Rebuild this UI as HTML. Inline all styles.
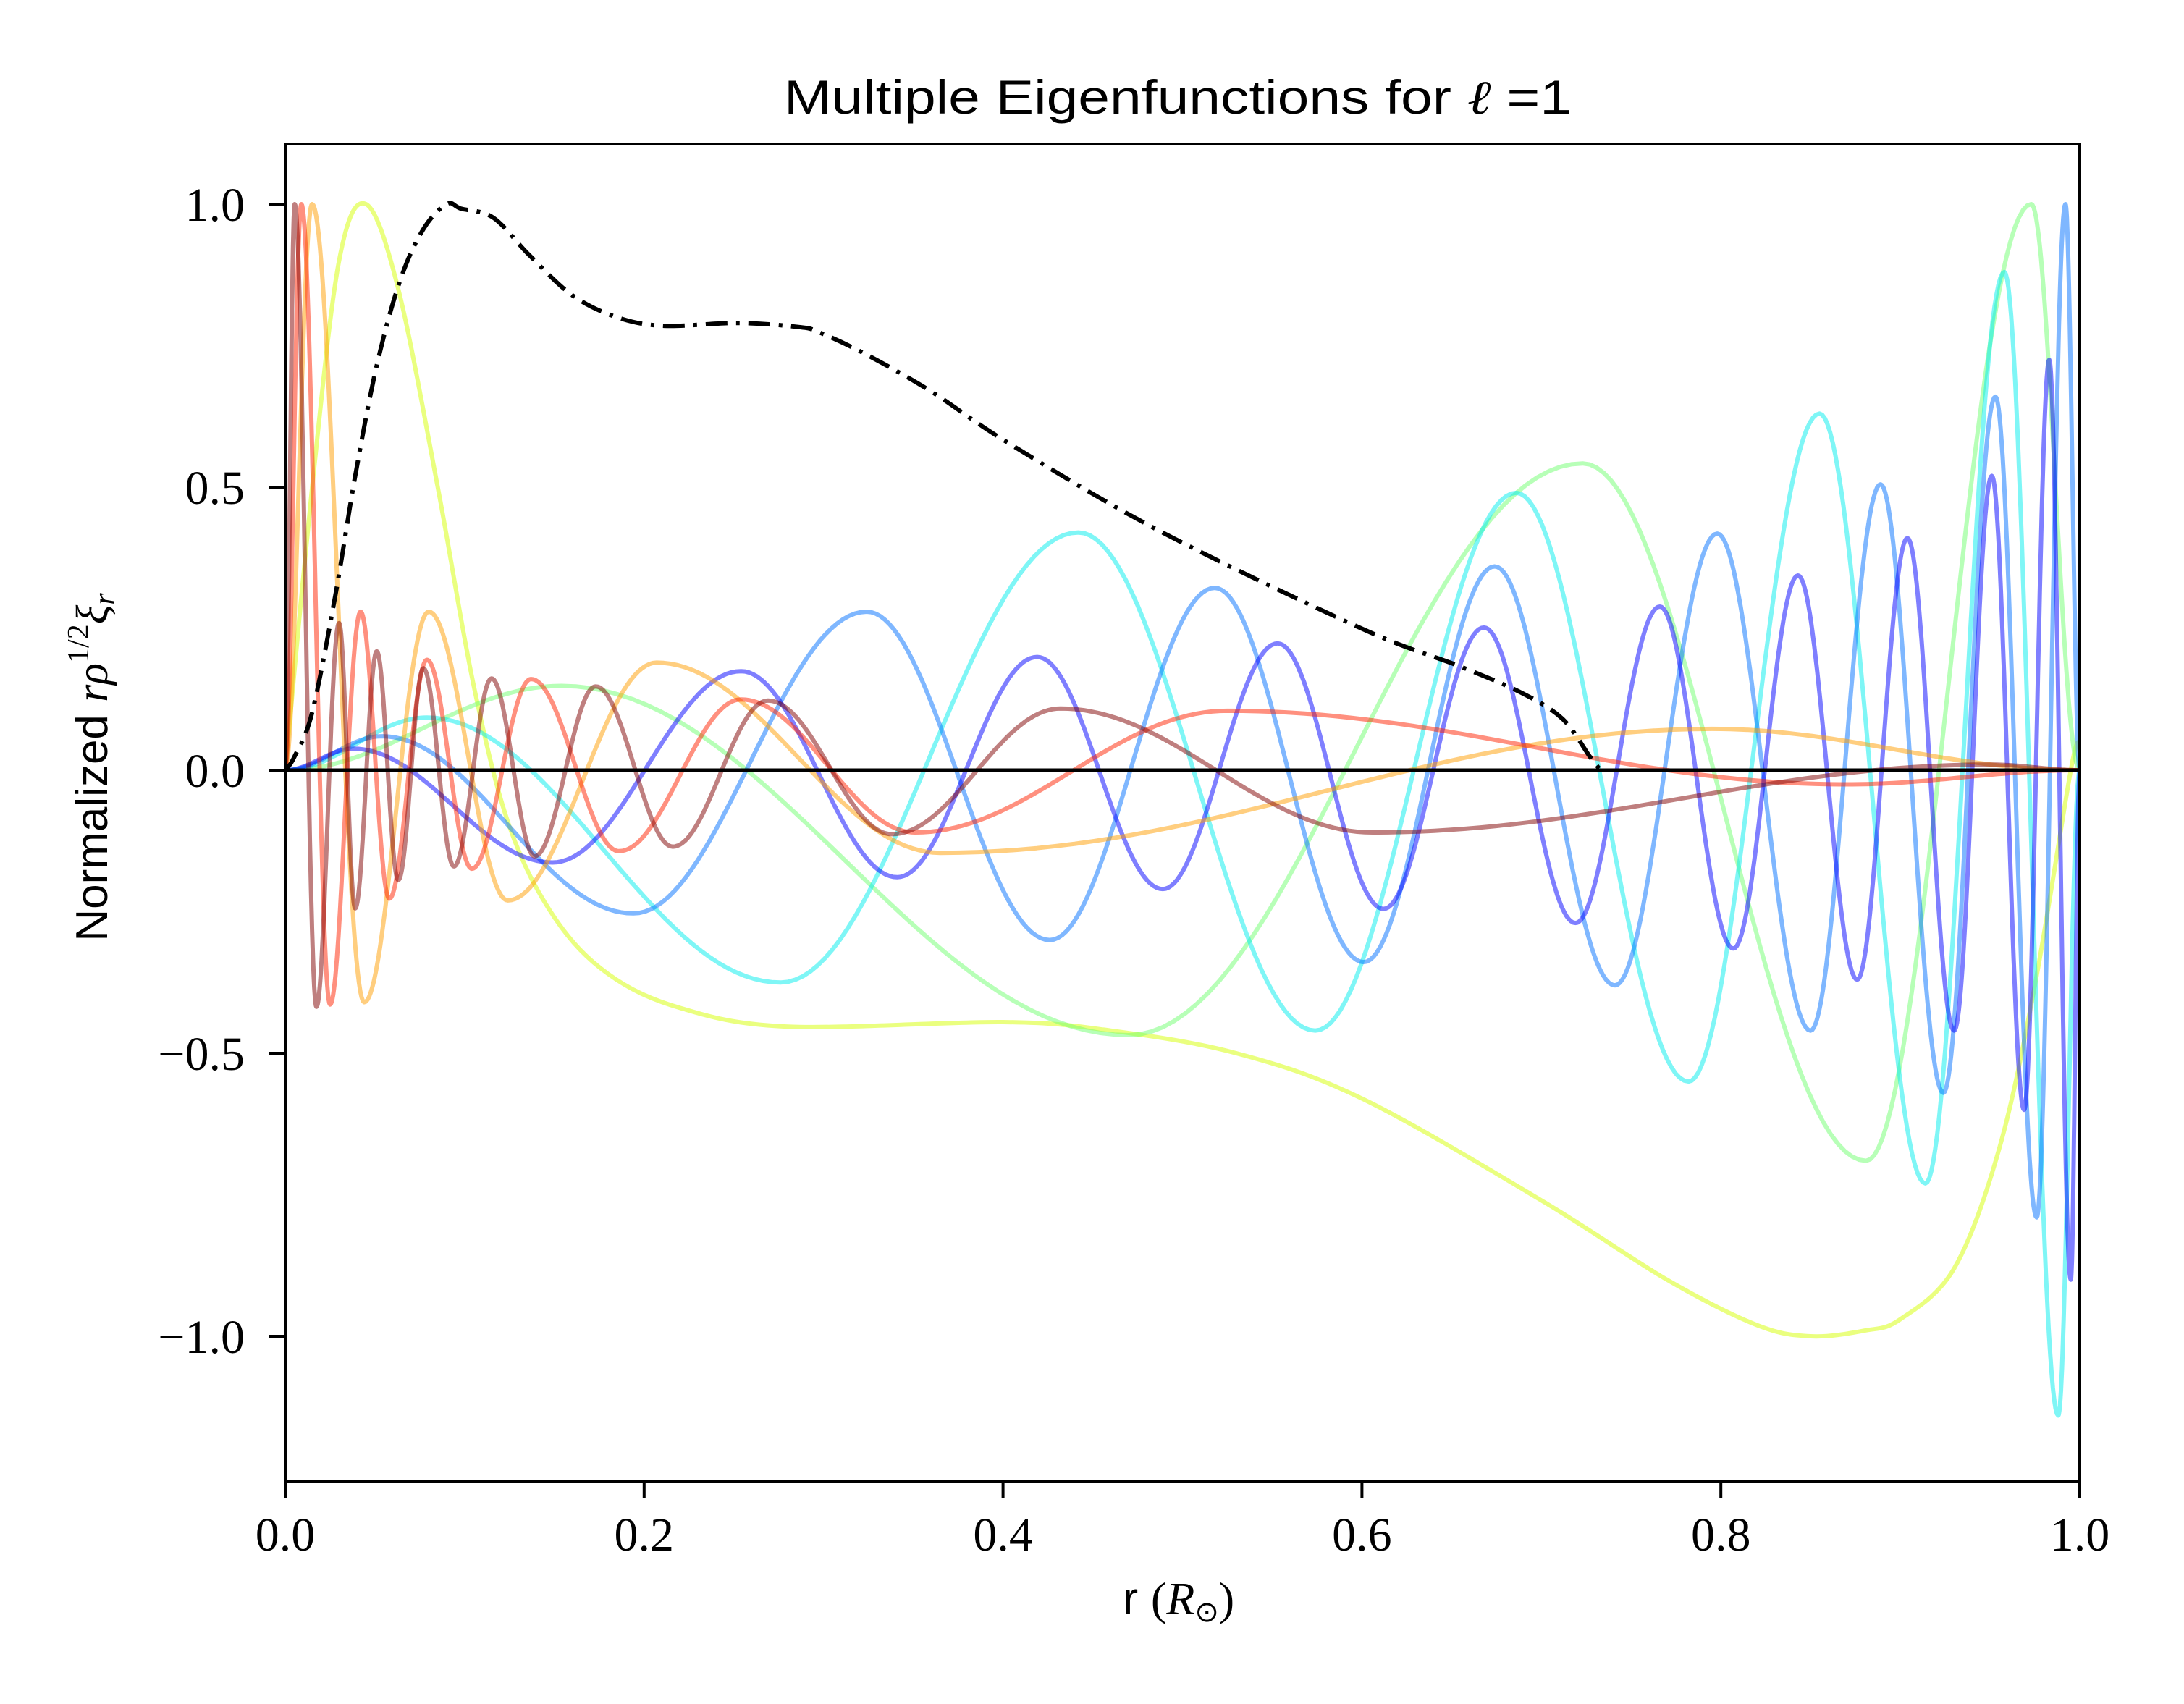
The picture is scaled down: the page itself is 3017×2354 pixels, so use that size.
<!DOCTYPE html>
<html><head><meta charset="utf-8"><style>
html,body{margin:0;padding:0;background:#fff;}
svg{display:block;}
</style></head><body>
<svg id="chart" width="3017" height="2354" viewBox="0 0 3017 2354" xmlns="http://www.w3.org/2000/svg">
<rect x="0" y="0" width="3017" height="2354" fill="#fff"/>
<g id="plot"></g>
<g id="axes"></g>
<text x="1627" y="157" text-anchor="middle" font-family="Liberation Sans, sans-serif" font-size="66" textLength="1088" lengthAdjust="spacingAndGlyphs">Multiple Eigenfunctions for <tspan font-family="Liberation Serif, serif" font-style="italic">ℓ</tspan> =1</text>
<text x="1628" y="2230" text-anchor="middle" font-family="Liberation Sans, sans-serif" font-size="64">r <tspan font-family="Liberation Serif, serif">(</tspan><tspan font-family="Liberation Serif, serif" font-style="italic">R</tspan><tspan font-family="DejaVu Sans, sans-serif" font-size="40" dy="10">⊙</tspan><tspan font-family="Liberation Serif, serif" dy="-10">)</tspan></text>
<text transform="translate(148,1060) rotate(-90)" text-anchor="middle" font-family="Liberation Sans, sans-serif" font-size="62">Normalized <tspan font-family="Liberation Serif, serif" font-style="italic">rρ</tspan><tspan font-family="Liberation Serif, serif" font-size="42" dy="-26">1/2</tspan><tspan font-family="Liberation Serif, serif" font-style="italic" dy="26">ξ</tspan><tspan font-family="Liberation Serif, serif" font-style="italic" font-size="42" dy="10">r</tspan></text>
</svg>
<script>
// ---- data ----
const xTicks = [0.0, 0.2, 0.4, 0.6, 0.8, 1.0];
const xTickLabels = ["0.0", "0.2", "0.4", "0.6", "0.8", "1.0"];
const yTicks = [1.0, 0.5, 0.0, -0.5, -1.0];
const yTickLabels = ["1.0", "0.5", "0.0", "\u22120.5", "\u22121.0"];

const brownR = [0,0.0053,0.0174,0.03,0.039,0.051,0.063,0.077,0.094,0.115,0.139,0.173,0.216,0.269,0.338,0.432,0.606,0.95,1.0];
const brownV = [0,1.0,-0.418,0.26,-0.244,0.21,-0.194,0.18,-0.17,0.162,-0.152,0.148,-0.135,0.123,-0.113,0.109,-0.11,0.01,0];
const redR = [0,0.009,0.025,0.042,0.058,0.079,0.104,0.137,0.186,0.254,0.351,0.525,0.87,1.0];
const redV = [0,1.0,-0.414,0.28,-0.227,0.195,-0.174,0.161,-0.143,0.125,-0.11,0.105,-0.025,0];
const orangeR = [0,0.015,0.044,0.08,0.124,0.207,0.365,0.795,1.0];
const orangeV = [0,1.0,-0.41,0.28,-0.23,0.19,-0.146,0.073,0];
const yellowR = [0,0.015,0.03,0.045,0.063,0.085,0.105,0.125,0.15,0.18,0.22,0.28,0.4,0.46,0.53,0.6,0.7,0.77,0.82,0.85,0.88,0.9,0.93,0.955,0.975,0.995,1.0];
const yellowV = [0,0.5,0.9,1.0,0.85,0.5,0.15,-0.1,-0.26,-0.36,-0.42,-0.453,-0.445,-0.46,-0.5,-0.58,-0.76,-0.9,-0.98,-1.0,-0.99,-0.97,-0.88,-0.67,-0.38,0,0.05];
const greenR = [0,0.154,0.47,0.723,0.881,0.973,1.0];
const greenV = [0,0.149,-0.468,0.542,-0.69,1.0,0];
const cyanR = [0,0.079,0.276,0.442,0.574,0.686,0.782,0.855,0.914,0.958,0.988,1.0];
const cyanV = [0,0.093,-0.375,0.42,-0.46,0.49,-0.55,0.63,-0.73,0.88,-1.14,0];
const lblueR = [0,0.054,0.194,0.324,0.426,0.518,0.601,0.674,0.741,0.798,0.85,0.889,0.924,0.953,0.976,0.992,1.0];
const lblueV = [0,0.06,-0.253,0.28,-0.3,0.322,-0.339,0.36,-0.38,0.418,-0.46,0.505,-0.57,0.66,-0.79,1.0,0];
const blueR = [0,0.038,0.149,0.254,0.341,0.419,0.489,0.553,0.612,0.668,0.719,0.766,0.807,0.843,0.876,0.904,0.930,0.951,0.969,0.983,0.995,1.0];
const blueV = [0,0.038,-0.163,0.175,-0.189,0.2,-0.21,0.224,-0.245,0.252,-0.27,0.289,-0.315,0.344,-0.37,0.41,-0.46,0.52,-0.60,0.725,-0.90,0];
const blackR = [0,0.005,0.015,0.028,0.039,0.051,0.064,0.077,0.090,0.098,0.116,0.136,0.16,0.185,0.211,0.252,0.286,0.298,0.324,0.36,0.403,0.487,0.6,0.655,0.69,0.712,0.727,0.733];
const blackV = [0,0.023,0.102,0.31,0.52,0.715,0.865,0.956,1.0,0.992,0.976,0.91,0.839,0.8,0.785,0.79,0.783,0.773,0.734,0.669,0.578,0.423,0.25,0.183,0.135,0.09,0.024,0];

// ---- axes ----
const L=394, R=2873, T=199, B=2047, Y0=1064, YU=782;
function xs(r){return L+(R-L)*r;}
function ys(v){return Y0-YU*v;}
const NS="http://www.w3.org/2000/svg";
const plot=document.getElementById('plot'), axes=document.getElementById('axes');
function mk(tag,attrs,parent){const e=document.createElementNS(NS,tag);for(const k in attrs)e.setAttribute(k,attrs[k]);parent.appendChild(e);return e;}

function cosPath(rs,vs){
  let d=`M${xs(rs[0]).toFixed(1)},${ys(vs[0]).toFixed(1)}`;
  for(let i=0;i<rs.length-1;i++){
    const n=40;
    for(let k=1;k<=n;k++){
      const t=k/n, w=(1-Math.cos(Math.PI*t))/2;
      const r=rs[i]+(rs[i+1]-rs[i])*t, v=vs[i]+(vs[i+1]-vs[i])*w;
      d+=` L${xs(r).toFixed(1)},${ys(v).toFixed(1)}`;
    }
  }
  return d;
}
function splinePath(rs,vs){
  const P=rs.map((r,i)=>[xs(r),ys(vs[i])]);
  let d=`M${P[0][0].toFixed(1)},${P[0][1].toFixed(1)}`;
  for(let i=0;i<P.length-1;i++){
    const p0=P[Math.max(0,i-1)],p1=P[i],p2=P[i+1],p3=P[Math.min(P.length-1,i+2)];
    const c1=[p1[0]+(p2[0]-p0[0])/6,p1[1]+(p2[1]-p0[1])/6];
    const c2=[p2[0]-(p3[0]-p1[0])/6,p2[1]-(p3[1]-p1[1])/6];
    d+=` C${c1[0].toFixed(1)},${c1[1].toFixed(1)} ${c2[0].toFixed(1)},${c2[1].toFixed(1)} ${p2[0].toFixed(1)},${p2[1].toFixed(1)}`;
  }
  return d;
}
function series(name,rs,vs,color,mode){
  const p=mk('path',{d:mode==='spline'?splinePath(rs,vs):cosPath(rs,vs),fill:'none',stroke:color,'stroke-width':6,'stroke-opacity':0.5,'stroke-linejoin':'round','stroke-linecap':'round'},plot);
  
  
}
mk('clipPath',{id:'clip'},plot);
document.getElementById('clip').appendChild(document.createElementNS(NS,'rect'));
const cr=document.getElementById('clip').firstChild;
cr.setAttribute('x',L);cr.setAttribute('y',T);cr.setAttribute('width',R-L);cr.setAttribute('height',B-T);
plot.setAttribute('clip-path','url(#clip)');

series('series-yellow',yellowR,yellowV,'#d6ff00','spline');
series('series-green',greenR,greenV,'#70ff70','cos');
series('series-cyan',cyanR,cyanV,'#00eeee','cos');
series('series-light-blue',lblueR,lblueV,'#0070ff','cos');
series('series-blue',blueR,blueV,'#0000ff','cos');
series('series-orange',orangeR,orangeV,'#ff9e00','cos');
series('series-red',redR,redV,'#ff2200','cos');
series('series-brown',brownR,brownV,'#800000','cos');

const bl=mk('path',{d:splinePath(blackR,blackV),fill:'none',stroke:'#000','stroke-width':6,'stroke-dasharray':'30 12 5 12'},plot);


const zl=mk('line',{x1:xs(0),x2:xs(1),y1:ys(0),y2:ys(0),stroke:'#000','stroke-width':5},plot);



const frame=mk('rect',{x:L,y:T,width:R-L,height:B-T,fill:'none',stroke:'#000','stroke-width':4},axes);


xTicks.forEach((t,i)=>{
  const tk=mk('line',{x1:xs(t),x2:xs(t),y1:B,y2:B+23,stroke:'#000','stroke-width':4},axes);
  
  
  const tx=mk('text',{x:xs(t),y:2142,'text-anchor':'middle','font-family':'Liberation Serif, serif','font-size':66},axes);
  
  
  tx.textContent=xTickLabels[i];
});
yTicks.forEach((t,i)=>{
  const tk=mk('line',{x1:L-23,x2:L,y1:ys(t),y2:ys(t),stroke:'#000','stroke-width':4},axes);
  
  
  const tx=mk('text',{x:338,y:ys(t)+23,'text-anchor':'end','font-family':'Liberation Serif, serif','font-size':66},axes);
  
  
  tx.textContent=yTickLabels[i];
});
</script>
</body></html>
